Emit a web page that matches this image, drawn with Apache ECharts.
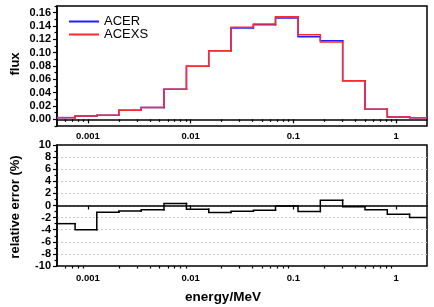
<!DOCTYPE html>
<html>
<head>
<meta charset="utf-8">
<script src="https://cdn.jsdelivr.net/npm/echarts@6/dist/echarts.min.js"></script>
<style>html,body{margin:0;padding:0;background:#fff;}#c{width:434px;height:307px;}</style>
</head>
<body>
<div id="c"></div>
<script>
// bin edges (MeV)
const edges = [0.0005, 0.00075, 0.00122, 0.002, 0.0033, 0.0055, 0.0091, 0.015, 0.0247, 0.0408, 0.067, 0.111, 0.183, 0.302, 0.498, 0.821, 1.353, 2];
const acer  = [0.0025, 0.005, 0.006, 0.0135, 0.0176, 0.045, 0.0797, 0.103, 0.137, 0.142, 0.152, 0.124, 0.118, 0.0577, 0.015, 0.0035, 0.0025];
const acexs = [0.0025, 0.005, 0.006, 0.0135, 0.0176, 0.045, 0.0797, 0.103, 0.138, 0.143, 0.154, 0.127, 0.116, 0.0577, 0.015, 0.0035, 0.0025];
const relErr = [-3.0, -4.0, -1.1, -0.9, -0.7, 0.33, -0.6, -1.15, -0.94, -0.77, -0.1, -1.0, 0.88, -0.22, -0.72, -1.43, -1.98];
const xTickLabels = [0.001, 0.01, 0.1, 1];
const fluxTicks = [0, 0.02, 0.04, 0.06, 0.08, 0.10, 0.12, 0.14, 0.16];
const fluxMinorTicks = [-0.01, 0.01, 0.03, 0.05, 0.07, 0.09, 0.11, 0.13, 0.15, 0.17];

const xMinor = [];
[0.0001, 0.001, 0.01, 0.1, 1].forEach(d => { for (let k = 2; k <= 9; k++) { const v = d * k; if (v > 0.0005 && v < 2) xMinor.push(+v.toPrecision(3)); } });

// step bins: [left edge, right edge, value, previous value]
function bins(vals) {
  return vals.map((v, i) => [edges[i], edges[i + 1], v, i > 0 ? vals[i - 1] : v]);
}
function stepItem(params, api) {
  const xl = api.value(0), xr = api.value(1), y = api.value(2), yp = api.value(3);
  const p0 = api.coord([xl, yp]), p1 = api.coord([xl, y]), p2 = api.coord([xr, y]);
  return {
    type: 'polyline',
    shape: { points: [p0, p1, p2] },
    style: { stroke: api.visual('color'), lineWidth: 1.5, fill: null, lineCap: 'square', lineJoin: 'miter' }
  };
}

const FONT = 'Liberation Sans, Arial, sans-serif';
const lbl = (size) => ({ fontFamily: FONT, fontWeight: 'bold', fontSize: size, color: '#000' });
const axisLine = { show: true, lineStyle: { color: '#000', width: 1.5 } };
const fmtX = v => String(+(+v).toPrecision(3));

function xMajor(gi, margin) {
  return {
    type: 'log', logBase: 10, gridIndex: gi, min: 0.0005, max: 2, position: 'bottom',
    axisLine: axisLine,
    axisTick: { show: true, length: 4, customValues: xTickLabels, lineStyle: { color: '#000', width: 1.2 } },
    axisLabel: Object.assign({ show: true, margin: margin, customValues: xTickLabels, formatter: fmtX }, lbl(9.5)),
    splitLine: { show: false }, minorTick: { show: false }, minorSplitLine: { show: false }
  };
}
function xMinorAxis(gi) {
  return {
    type: 'log', logBase: 10, gridIndex: gi, min: 0.0005, max: 2, position: 'bottom', offset: 0,
    axisLine: { show: false },
    axisTick: { show: true, length: 2.5, customValues: xMinor, lineStyle: { color: '#000', width: 1.2 } },
    axisLabel: { show: false }, splitLine: { show: false }
  };
}

const chart = echarts.init(document.getElementById('c'), null, { renderer: 'canvas' });
chart.setOption({
  animation: false,
  backgroundColor: '#fff',
  grid: [
    { left: 57, right: 7, top: 6, height: 120, show: true, borderColor: '#000', borderWidth: 1.5, backgroundColor: 'transparent' },
    { left: 57, right: 7, top: 145, height: 121, show: true, borderColor: '#000', borderWidth: 1.5, backgroundColor: 'transparent' }
  ],
  legend: {
    orient: 'vertical', left: 64, top: 10, itemWidth: 30, itemHeight: 2, itemGap: 0,
    icon: 'rect',
    data: ['ACER', 'ACEXS'],
    textStyle: { fontFamily: FONT, fontSize: 13, color: '#000' }
  },
  xAxis: [xMajor(0, 5), xMinorAxis(0), xMajor(1, 7), xMinorAxis(1)],
  yAxis: [
    {
      type: 'value', gridIndex: 0, min: -0.01, max: 0.17,
      axisLine: axisLine,
      axisTick: { show: true, length: 4, customValues: fluxTicks, lineStyle: { color: '#000', width: 1.2 } },
      axisLabel: Object.assign({ show: true, margin: 6, customValues: fluxTicks, formatter: v => (+v).toFixed(2) }, lbl(11)),
      splitLine: { show: false }
    },
    {
      type: 'value', gridIndex: 0, min: -0.01, max: 0.17, position: 'left',
      axisLine: { show: false },
      axisTick: { show: true, length: 2.5, customValues: fluxMinorTicks, lineStyle: { color: '#000', width: 1.2 } },
      axisLabel: { show: false }, splitLine: { show: false }
    },
    {
      type: 'value', gridIndex: 1, min: -10, max: 10, interval: 2,
      axisLine: axisLine,
      axisTick: { show: true, length: 4, lineStyle: { color: '#000', width: 1.2 } },
      minorTick: { show: true, splitNumber: 2, length: 2.5, lineStyle: { color: '#000', width: 1.2 } },
      axisLabel: Object.assign({ show: true, margin: 6 }, lbl(11)),
      splitLine: { show: true, showMinLine: false, showMaxLine: false, lineStyle: { color: '#c8c8c8', type: [2, 2], width: 1 } }
    }
  ],
  graphic: [
    { type: 'text', x: 15, y: 64, rotation: Math.PI / 2, style: { text: 'flux', fontFamily: FONT, fontWeight: 'bold', fontSize: 13, fill: '#000', align: 'center', verticalAlign: 'middle' } },
    { type: 'text', x: 15, y: 207, rotation: Math.PI / 2, style: { text: 'relative error (%)', fontFamily: FONT, fontWeight: 'bold', fontSize: 13, fill: '#000', align: 'center', verticalAlign: 'middle' } },
    { type: 'text', x: 223, y: 297, style: { text: 'energy/MeV', fontFamily: FONT, fontWeight: 'bold', fontSize: 13.5, fill: '#000', align: 'center', verticalAlign: 'middle' } }
  ],
  series: [
    { name: 'ACER', type: 'custom', xAxisIndex: 0, yAxisIndex: 0, renderItem: stepItem, data: bins(acer), encode: { x: [0, 1], y: [2, 3] }, itemStyle: { color: '#1f1fff' }, clip: true },
    { name: 'ACEXS', type: 'custom', xAxisIndex: 0, yAxisIndex: 0, renderItem: stepItem, data: bins(acexs), encode: { x: [0, 1], y: [2, 3] }, itemStyle: { color: '#ff2a2a' }, clip: true },
    { name: 'relErr', type: 'custom', xAxisIndex: 2, yAxisIndex: 2, renderItem: stepItem, data: bins(relErr), encode: { x: [0, 1], y: [2, 3] }, itemStyle: { color: '#000' }, clip: true }
  ]
});
</script>
</body>
</html>
